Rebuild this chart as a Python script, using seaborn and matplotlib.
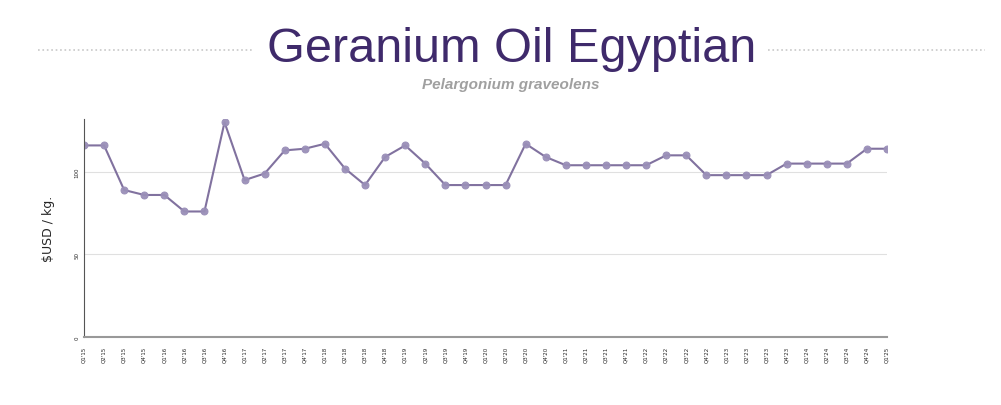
import matplotlib
matplotlib.use("Agg")
import matplotlib.pyplot as plt
import seaborn as sns
import pandas as pd

quarters = [f"Q{q}'{y}" for y in range(15, 26) for q in range(1, 5)][:41]
prices = [116, 116, 89, 86, 86, 76, 76, 130, 95, 99, 113, 114, 117, 102, 92, 109,
          116, 105, 92, 92, 92, 92, 117, 109, 104, 104, 104, 104, 104, 110, 110,
          98, 98, 98, 98, 105, 105, 105, 105, 114, 114]

df = pd.DataFrame({"quarter": quarters, "price": prices})
df["idx"] = range(len(df))

sns.set_style("white")
fig = plt.figure(figsize=(10.01, 4.06), dpi=100)
ax = fig.add_axes([84 / 1001, 68 / 406, 803 / 1001, 218 / 406])

sns.lineplot(data=df, x="idx", y="price", ax=ax, color="#7a6a9a", linewidth=1.5,
             marker="o", markersize=5, markerfacecolor="#9a8fb8",
             markeredgecolor="#9a8fb8", alpha=0.95)

ax.set_xlim(0, len(df) - 1)
ax.set_ylim(0, 132)
ax.set_yticks([0, 50, 100])
ax.set_yticklabels(["0", "50", "100"], rotation=90, fontsize=4, va="center")
ax.yaxis.grid(True, color="#e0e0e0", linewidth=0.8)
ax.set_xticks(df["idx"])
ax.set_xticklabels(df["quarter"], rotation=90, fontsize=4)
ax.tick_params(axis="x", length=3, color="#aaaaaa")
ax.tick_params(axis="y", length=0)
for s in ["top", "right"]:
    ax.spines[s].set_visible(False)
ax.spines["left"].set_color("#555555")
ax.spines["bottom"].set_color("#999999")
ax.spines["bottom"].set_linewidth(1.5)
ax.set_xlabel("")
ax.set_ylabel("$USD / kg.", fontsize=9, labelpad=14)

fig.text(0.511, 0.877, "Geranium Oil Egyptian", ha="center", va="center",
         fontsize=35, color="#3f2a6b", family="Liberation Sans")
fig.text(0.51, 0.79, "Pelargonium graveolens", ha="center", va="center",
         fontsize=11, color="#a0a0a0", style="italic", weight="bold",
         family="Liberation Sans")
fig.add_artist(plt.Line2D([38 / 1001, 252 / 1001], [0.875, 0.875], color="#c8c8c8",
                          linestyle=":", linewidth=1.2))
fig.add_artist(plt.Line2D([768 / 1001, 985 / 1001], [0.875, 0.875], color="#c8c8c8",
                          linestyle=":", linewidth=1.2))

fig.savefig("out.png", dpi=100)
